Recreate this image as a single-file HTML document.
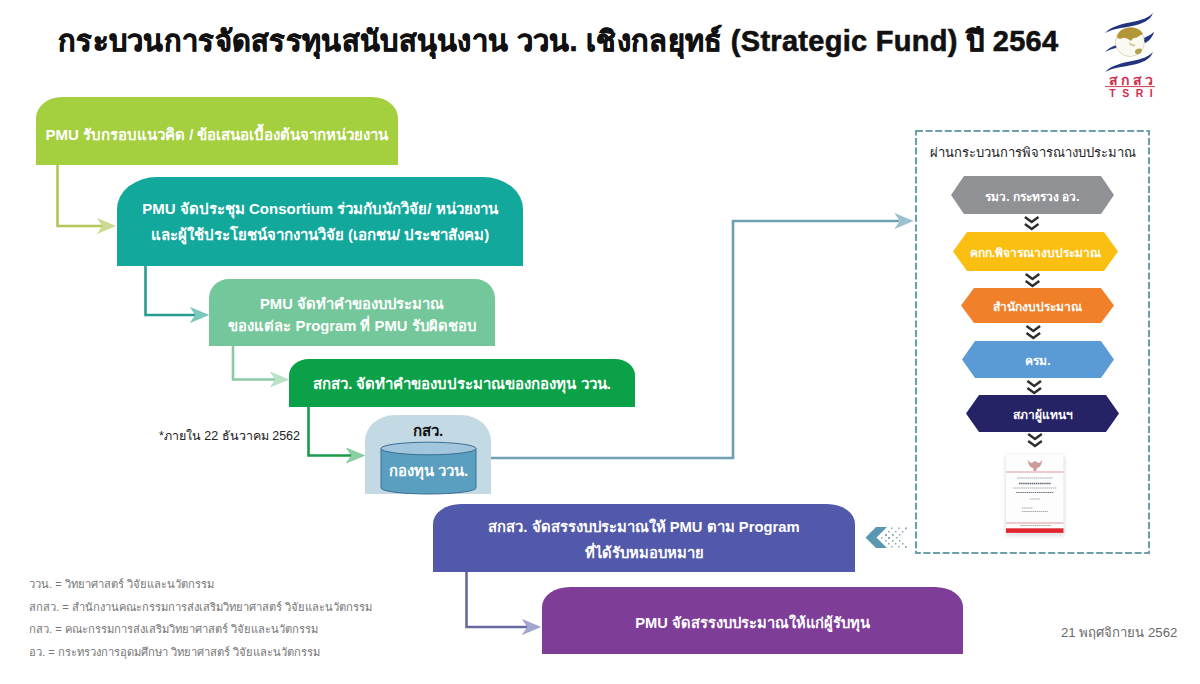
<!DOCTYPE html>
<html><head><meta charset="utf-8">
<style>
html,body{margin:0;padding:0;background:#fff;}
body{width:1200px;height:684px;position:relative;overflow:hidden;font-family:"Liberation Sans",sans-serif;}
.a{position:absolute;}
.t{position:absolute;white-space:nowrap;text-align:center;font-weight:bold;color:#fff;}
svg{position:absolute;left:0;top:0;}
</style></head><body>

<div class="t" id="title" style="left:58px;top:18px;font-size:29px;letter-spacing:0.29px;color:#111;-webkit-text-stroke:0.6px #111;text-align:left;">กระบวนการจัดสรรทุนสนับสนุนงาน ววน. เชิงกลยุทธ์ (Strategic Fund) ปี 2564</div>

<!-- boxes -->
<div class="a" style="left:36px;top:97px;width:362px;height:68px;background:#a4cf3e;border-radius:26px 26px 0 0/21px 21px 0 0;"></div>
<div class="a" style="left:117px;top:177px;width:406px;height:89px;background:#12a89c;border-radius:40px 40px 0 0/32px 32px 0 0;"></div>
<div class="a" style="left:209px;top:279px;width:286px;height:67px;background:#74c79a;border-radius:20px 20px 0 0/19px 19px 0 0;"></div>
<div class="a" style="left:289px;top:359px;width:346px;height:48px;background:#0aa148;border-radius:20px 20px 0 0/16px 16px 0 0;"></div>
<div class="a" style="left:365px;top:415px;width:126px;height:79px;background:#c3d9e4;border-radius:30px 30px 0 0/26px 26px 0 0;"></div>
<div class="a" style="left:433px;top:504px;width:422px;height:68px;background:#5359aa;border-radius:28px 28px 0 0/20px 20px 0 0;"></div>
<div class="a" style="left:542px;top:587px;width:421px;height:67px;background:#7e3d97;border-radius:28px 28px 0 0/20px 20px 0 0;"></div>

<svg width="1200" height="684" viewBox="0 0 1200 684">
  <!-- connectors -->
  <g fill="none" stroke-width="2.6">
    <polyline points="57.5,165 57.5,226 102,226" stroke="#b2c65a"/>
    <polyline points="145.5,266 145.5,315 195,315" stroke="#279d90"/>
    <polyline points="233,346 233,379.5 275,379.5" stroke="#8ccaa6"/>
    <polyline points="308.5,407 308.5,455.5 351,455.5" stroke="#1b9a4b"/>
    <polyline points="491,458 733,458 733,221 899,221" stroke="#6e9fb3"/>
    <polyline points="466.5,572 466.5,627 527,627" stroke="#676a9e"/>
  </g>
  <g>
    <path d="M115.5,226 L97.5,218.5 L102.5,226 L97.5,233.5 Z" fill="#c9dc94" stroke="#b2c65a" stroke-width="0.6" stroke-opacity="0.5"/>
    <path d="M208.5,315 L190.5,307.5 L195.5,315 L190.5,322.5 Z" fill="#7cc8bd" stroke="#279d90" stroke-width="0.6" stroke-opacity="0.5"/>
    <path d="M288.5,379.5 L270.5,372.0 L275.5,379.5 L270.5,387.0 Z" fill="#b9e2c8" stroke="#8ccaa6" stroke-width="0.6" stroke-opacity="0.5"/>
    <path d="M364.5,455.5 L346.5,448.0 L351.5,455.5 L346.5,463.0 Z" fill="#8bd2a0" stroke="#1b9a4b" stroke-width="0.6" stroke-opacity="0.5"/>
    <path d="M913,221 L895,213.5 L900,221 L895,228.5 Z" fill="#9cc0cf" stroke="#6e9fb3" stroke-width="0.6" stroke-opacity="0.5"/>
    <path d="M540.5,627 L522.5,619.5 L527.5,627 L522.5,634.5 Z" fill="#a3a6d0" stroke="#676a9e" stroke-width="0.6" stroke-opacity="0.5"/>
  </g>
  <!-- cylinder -->
  <path d="M381,448.5 L381,488 A47.5,6 0 0 0 476,488 L476,448.5 Z" fill="#5a9fc0" stroke="#3b6f93" stroke-width="1"/>
  <ellipse cx="428.5" cy="448.5" rx="47.5" ry="6.3" fill="#a2c6dd" stroke="#3b6f93" stroke-width="1"/>
  <!-- dashed panel -->
  <rect x="916" y="131" width="233" height="422" fill="none" stroke="#6d9fab" stroke-width="2.1" stroke-dasharray="7 2.6"/>
  <!-- hexagons -->
  <polygon points="964,176 1101,176 1114,195 1101,214 964,214 951,195" fill="#909195"/>
  <polygon points="967,232 1104,232 1118,251.5 1104,271 967,271 953,251.5" fill="#fbbf12"/>
  <polygon points="974,288 1101,288 1114,305.5 1101,323 974,323 961,305.5" fill="#f0802a"/>
  <polygon points="975,341 1101,341 1114,359.5 1101,378 975,378 962,359.5" fill="#5b9bd5"/>
  <polygon points="979,395 1106,395 1119,413.5 1106,432 979,432 966,413.5" fill="#262266"/>
  <!-- double chevrons -->
  <g fill="none" stroke="#2e2e2e" stroke-width="2.5" stroke-linejoin="miter">
    <path d="M1024.9,217 L1031.7,222 L1038.5,217 M1024.9,224 L1031.7,229 L1038.5,224"/>
    <path d="M1025.7,274 L1032.5,279 L1039.3,274 M1025.7,281 L1032.5,286 L1039.3,281"/>
    <path d="M1026.5,326 L1033.3,331 L1040.1,326 M1026.5,333 L1033.3,338 L1040.1,333"/>
    <path d="M1027.4,381 L1034.2,386 L1041.0,381 M1027.4,388 L1034.2,393 L1041.0,388"/>
    <path d="M1028.2,434 L1035.0,439 L1041.8,434 M1028.2,441 L1035.0,446 L1041.8,441"/>
  </g>
  <!-- document -->
  <defs>
    <filter id="sh" x="-30%" y="-30%" width="160%" height="160%"><feGaussianBlur stdDeviation="2.2"/></filter>
  </defs>
  <rect x="1006" y="456" width="58" height="79" fill="#000" opacity="0.18" filter="url(#sh)"/>
  <rect x="1006" y="454.5" width="57.5" height="79" fill="#fdfdfd"/>
  <path d="M1028,460 C1030,463 1032,464 1033,462 C1034,461 1036,461 1037,462 C1038,464 1040,463 1042,460 C1042,465 1039,468 1037,468 L1036,471 L1034,471 L1033,468 C1031,468 1028,465 1028,460 Z" fill="#c08a88" opacity="0.85"/>
  <line x1="1006" y1="472" x2="1063.5" y2="472" stroke="#d98f92" stroke-width="0.9"/>
  <g stroke="#8c9398" stroke-width="0.8" stroke-dasharray="1.5 0.6">
    <line x1="1017" y1="478" x2="1053" y2="478"/>
    <line x1="1019" y1="483.5" x2="1051" y2="483.5" stroke="#5d6370" stroke-width="1.3"/>
    <line x1="1013" y1="488" x2="1057" y2="488"/>
    <line x1="1016" y1="492.5" x2="1054" y2="492.5" stroke="#6d737c" stroke-width="1"/>
    <line x1="1030" y1="499" x2="1040" y2="499"/>
    <line x1="1022" y1="508" x2="1033" y2="508"/>
    <line x1="1022" y1="511.5" x2="1048" y2="511.5"/>
    <line x1="1020" y1="525.5" x2="1051" y2="525.5"/>
  </g>
  <line x1="1006" y1="523" x2="1063.5" y2="523" stroke="#d98f92" stroke-width="0.9"/>
  <rect x="1006" y="528.3" width="57.5" height="4.6" fill="#e0262f"/>
  <!-- left chevron arrow -->
  <path d="M865.5,537.5 L876,527 L887,527 L876.5,537.5 L887,548 L876,548 Z" fill="#5a97b2"/>
  <g fill="#5d8d9c" opacity="0.75">
    <rect x="891" y="527.5" width="1.5" height="1.5"/><rect x="898" y="527.5" width="1.5" height="1.5"/><rect x="905" y="527.5" width="1.8" height="1.8"/>
    <rect x="888" y="531" width="1.5" height="1.5"/><rect x="895" y="531" width="1.5" height="1.5"/><rect x="902" y="531" width="1.5" height="1.5"/>
    <rect x="885" y="534" width="2" height="2"/><rect x="892" y="534" width="1.8" height="1.8"/><rect x="899" y="534" width="1.5" height="1.5"/>
    <rect x="881" y="537" width="1.5" height="1.5"/><rect x="888" y="537" width="2" height="2"/><rect x="896" y="537" width="1.5" height="1.5"/>
    <rect x="885" y="540" width="1.5" height="1.5"/><rect x="892" y="540" width="1.5" height="1.5"/><rect x="899" y="540" width="1.5" height="1.5"/>
    <rect x="888" y="543" width="1.5" height="1.5"/><rect x="895" y="543" width="1.5" height="1.5"/><rect x="902" y="543" width="1.5" height="1.5"/>
    <rect x="891" y="546" width="1.5" height="1.5"/><rect x="898" y="546" width="1.5" height="1.5"/><rect x="905" y="546" width="1.8" height="1.8"/>
  </g>
  <!-- logo -->
  <g>
    <path d="M1105,33 C1112,26 1122,24 1132,22 C1142,20 1148,18 1153,13 C1150,21 1142,24 1132,26 C1122,28 1112,29 1105,33 Z" fill="#23357f"/>
    <path d="M1105,52 C1112,45 1122,43 1132,41 C1142,39 1148,37 1154,32 C1151,40 1142,43 1132,45 C1122,47 1112,48 1105,52 Z" fill="#23357f"/>
    <circle cx="1130" cy="42" r="14.5" fill="#fbfaf2" stroke="#d8cfa0" stroke-width="0.8"/>
    <path d="M1117,37 C1118,31 1124,27.5 1131,27.5 C1137,27.5 1141,30 1143,34 C1140,35 1138,37 1136,38 C1134,37 1132,39 1131,41 C1129,40 1126,37 1123,38 C1120,39 1118,39 1117,37 Z" fill="#b39635"/>
    <path d="M1135,51 C1137,48 1141,48 1142,50 C1142,53 1139,55 1136,54 C1135,53 1135,52 1135,51 Z" fill="#b4a04c"/>
    <path d="M1129,42 C1131,43 1133,45 1135,44 C1136,46 1134,47 1132,46 C1130,46 1129,44 1129,42 Z" fill="#d6cc9c"/>
    <path d="M1105,72 C1112,65 1122,63 1132,61 C1142,59 1148,57 1153,52 C1150,60 1142,63 1132,65 C1122,67 1112,68 1105,72 Z" fill="#23357f"/>
    <path d="M1144,40 C1148,38 1151,35 1154,32 C1152,38 1149,41 1145,43 Z" fill="#23357f"/>
    <line x1="1105" y1="86.6" x2="1155" y2="86.6" stroke="#d33a55" stroke-width="1"/>
  </g>
</svg>

<!-- texts -->
<div class="t" style="left:36px;width:362px;top:123px;font-size:15px;">PMU รับกรอบแนวคิด / ข้อเสนอเบื้องต้นจากหน่วยงาน</div>
<div class="t" style="left:117px;width:406px;top:196px;font-size:15px;line-height:26px;">PMU จัดประชุม Consortium ร่วมกับนักวิจัย/ หน่วยงาน<br>และผู้ใช้ประโยชน์จากงานวิจัย (เอกชน/ ประชาสังคม)</div>
<div class="t" style="left:209px;width:286px;top:294px;font-size:14.8px;line-height:21.5px;">PMU จัดทำคำของบประมาณ<br>ของแต่ละ Program ที่ PMU รับผิดชอบ</div>
<div class="t" style="left:289px;width:346px;top:372px;font-size:15px;">สกสว. จัดทำคำของบประมาณของกองทุน ววน.</div>
<div class="t" style="left:365px;width:126px;top:419px;font-size:15px;color:#111;">กสว.</div>
<div class="t" style="left:381px;width:95px;top:459px;font-size:14.8px;">กองทุน ววน.</div>
<div class="t" style="left:159px;top:426px;font-size:12.5px;color:#222;font-weight:normal;text-align:left;">*ภายใน 22 ธันวาคม 2562</div>
<div class="t" style="left:433px;width:422px;top:514px;font-size:14.8px;line-height:26px;">สกสว. จัดสรรงบประมาณให้ PMU ตาม Program<br>ที่ได้รับหมอบหมาย</div>
<div class="t" style="left:542px;width:421px;top:611px;font-size:14.7px;">PMU จัดสรรงบประมาณให้แก่ผู้รับทุน</div>

<div class="t" style="left:916px;width:233px;top:142px;font-size:13px;color:#222;font-weight:normal;">ผ่านกระบวนการพิจารณางบประมาณ</div>
<div class="t" style="left:951px;width:163px;top:187px;font-size:12px;">รมว. กระทรวง อว.</div>
<div class="t" style="left:953px;width:165px;top:243px;font-size:12px;">คกก.พิจารณางบประมาณ</div>
<div class="t" style="left:961px;width:153px;top:297px;font-size:12px;">สำนักงบประมาณ</div>
<div class="t" style="left:962px;width:152px;top:351px;font-size:12px;">ครม.</div>
<div class="t" style="left:966px;width:153px;top:405px;font-size:12px;">สภาผู้แทนฯ</div>

<div class="t" style="left:29px;top:573px;font-size:11.2px;color:#767676;font-weight:normal;text-align:left;line-height:22.5px;">ววน. = วิทยาศาสตร์ วิจัยและนวัตกรรม<br>สกสว. = สำนักงานคณะกรรมการส่งเสริมวิทยาศาสตร์ วิจัยและนวัตกรรม<br>กสว. = คณะกรรมการส่งเสริมวิทยาศาสตร์ วิจัยและนวัตกรรม<br>อว. = กระทรวงการอุดมศึกษา วิทยาศาสตร์ วิจัยและนวัตกรรม</div>
<div class="t" style="left:1061px;top:622px;font-size:13.2px;color:#6a6a6a;font-weight:normal;text-align:left;">21 พฤศจิกายน 2562</div>

<div class="t" style="left:1100px;top:73px;width:62px;font-size:14px;line-height:14px;color:#d0304f;letter-spacing:3.6px;text-indent:3.6px;">สกสว</div>
<div class="t" style="left:1100px;top:88px;width:62px;font-size:10.5px;line-height:11px;color:#d0304f;letter-spacing:6.5px;text-indent:6.5px;">TSRI</div>
</body></html>
